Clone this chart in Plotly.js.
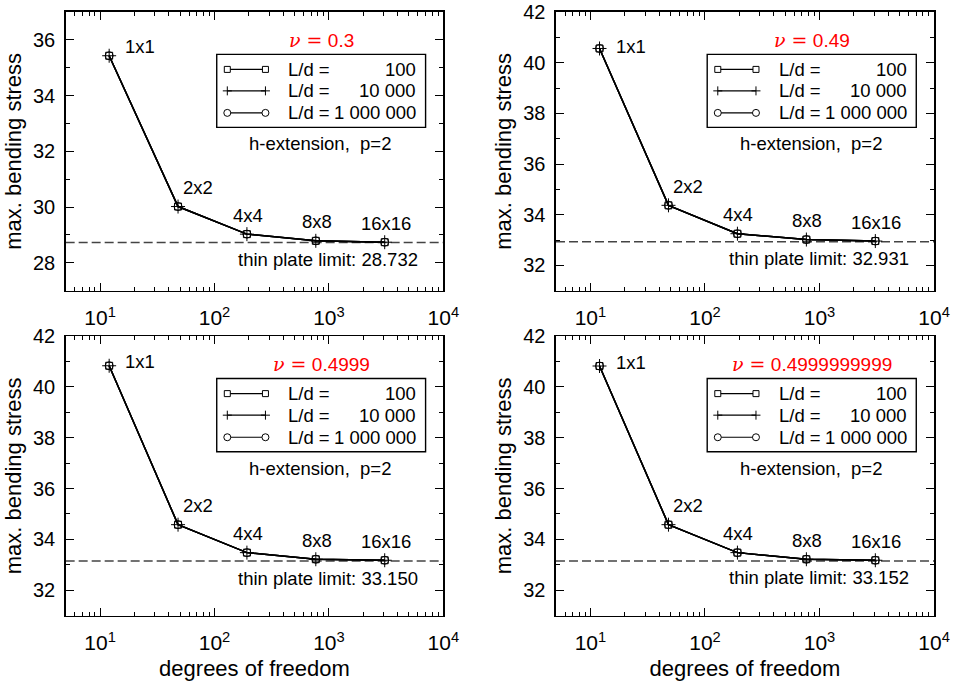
<!DOCTYPE html>
<html>
<head>
<meta charset="utf-8">
<script src="https://cdn.plot.ly/plotly-3.0.1.min.js"></script>
<style>
  html, body { margin: 0; padding: 0; background: #fff; }
  #plot { width: 953px; height: 681px; }
</style>
</head>
<body>
<div id="plot"></div>
<script>
// ---------------- data ----------------
const dof = [12, 48, 192, 768, 3072];
const meshLabels = ['1x1', '2x2', '4x4', '8x8', '16x16'];
const nuValues = ['0.3', '0.49', '0.4999', '0.4999999999'];
const thinPlateLimit = [28.732, 32.931, 33.150, 33.152];
const ldNames = ['100', '10 000', '1 000 000'];

// max. bending stress (the three L/d series coincide at this scale)
const stressNu03 = [35.43, 30.02, 29.03, 28.79, 28.74];
const stressNu049 = [40.56, 34.37, 33.25, 33.02, 32.96];
const stressNu04999 = [40.83, 34.58, 33.48, 33.22, 33.18];
const stressNu04999999999 = [40.82, 34.58, 33.48, 33.22, 33.18];

const yTickVals = [[28, 30, 32, 34, 36], [32, 34, 36, 38, 40, 42], [32, 34, 36, 38, 40, 42], [32, 34, 36, 38, 40, 42]];
const yRanges = [[27, 37], [31, 42], [31, 42], [31, 42]];
const xTickVals = [10, 100, 1000, 10000];
const xTickText = ['10<sup>1</sup>', '10<sup>2</sup>', '10<sup>3</sup>', '10<sup>4</sup>'];

// ---------------- layout helpers ----------------
const FONT = 'Liberation Sans, Arial, Helvetica, sans-serif';
const seriesByPanel = [stressNu03, stressNu049, stressNu04999, stressNu04999999999];
const xDomains = [[0.0689, 0.4652], [0.5834, 0.9801], [0.0689, 0.4652], [0.5834, 0.9801]];
const yDomains = [[0.5731, 0.9824], [0.5731, 0.9824], [0.0959, 0.5066], [0.0959, 0.5066]];
const firstLabelYShift = [9, 2, 4, 4];
const symbols = ['square-open', 'cross-thin-open', 'circle-open'];
const symbolSizes = [7, 10, 8];

const minorX = [];
for (let e = 0; e < 4; e++) for (let m = 2; m <= 9; m++) { const v = m * Math.pow(10, e); if (v > 5 && v < 10000) minorX.push(v); }

const traces = [];
const annotations = [];
const shapes = [];
const layout = {
  width: 953, height: 681,
  margin: { l: 0, r: 0, t: 0, b: 0 },
  paper_bgcolor: '#fff', plot_bgcolor: '#fff',
  showlegend: false,
  font: { family: FONT, color: '#000' },
  annotations, shapes
};

function px(i, r) { const d = xDomains[i]; return d[0] + r * (d[1] - d[0]); }
function py(i, r) { const d = yDomains[i]; return d[0] + r * (d[1] - d[0]); }

for (let i = 0; i < 4; i++) {
  const sx = i === 0 ? '' : String(i + 1);
  const xa = 'x' + sx, ya = 'y' + sx;
  const bottomRow = i >= 2;

  const xaxis = {
    domain: xDomains[i], anchor: ya, type: 'log',
    range: [Math.log10(5), 4],
    tickvals: xTickVals, ticktext: xTickText,
    ticks: 'inside', ticklen: 8, tickwidth: 1, tickcolor: '#000',
    minor: { tickvals: minorX, ticks: 'inside', ticklen: 4, tickwidth: 1, tickcolor: '#000' },
    showline: true, linewidth: 1.5, linecolor: '#000', mirror: 'allticks',
    showgrid: false, zeroline: false, automargin: false,
    tickfont: { family: FONT, size: 21, color: '#000' },
    ticklabelstandoff: 8
  };
  if (bottomRow) xaxis.title = { text: 'degrees of freedom', font: { family: FONT, size: 22, color: '#000' }, standoff: 8 };
  layout['xaxis' + sx] = xaxis;

  layout['yaxis' + sx] = {
    domain: yDomains[i], anchor: xa,
    range: yRanges[i], tickvals: yTickVals[i],
    ticks: 'inside', ticklen: 8, tickwidth: 1, tickcolor: '#000',
    minor: { dtick: 1, ticks: 'inside', ticklen: 4, tickwidth: 1, tickcolor: '#000' },
    showline: true, linewidth: 1.5, linecolor: '#000', mirror: 'allticks',
    showgrid: false, zeroline: false, automargin: false,
    tickfont: { family: FONT, size: 20, color: '#000' },
    ticklabelstandoff: 5,
    title: { text: 'max. bending stress', font: { family: FONT, size: 22, color: '#000' }, standoff: 5 }
  };

  // thin plate limit dashed line
  shapes.push({
    type: 'line', xref: 'paper', yref: ya,
    x0: xDomains[i][0], x1: xDomains[i][1], y0: thinPlateLimit[i], y1: thinPlateLimit[i],
    line: { color: '#444', width: 1.5, dash: '9px,4px' }, layer: 'below'
  });
  annotations.push({
    xref: 'paper', yref: ya, x: px(i, 0.938), y: thinPlateLimit[i],
    xanchor: 'right', yanchor: 'middle', yshift: -17, showarrow: false,
    text: 'thin plate limit: ' + thinPlateLimit[i].toFixed(3),
    font: { family: FONT, size: 18.5, color: '#000' }
  });

  // series
  for (let s = 0; s < 3; s++) {
    traces.push({
      type: 'scatter', mode: 'lines+markers', xaxis: xa, yaxis: ya,
      name: 'L/d = ' + ldNames[s],
      x: dof, y: seriesByPanel[i],
      line: { color: '#000', width: 1.5 },
      marker: { symbol: symbols[s], size: symbolSizes[s], color: '#000', line: { color: '#000', width: 1 } },
      cliponaxis: false
    });
  }

  // mesh labels
  meshLabels.forEach((lab, k) => {
    const first = k === 0, second = k === 1;
    annotations.push({
      xref: xa, yref: ya, x: Math.log10(dof[k]), y: seriesByPanel[i][k],
      xanchor: (first || second) ? 'left' : 'center', yanchor: 'middle',
      xshift: first ? 14 : (second ? 3 : 1), yshift: first ? firstLabelYShift[i] : 19,
      showarrow: false, text: lab,
      font: { family: FONT, size: 18.5, color: '#000' }
    });
  });

  // nu label
  annotations.push({
    xref: 'paper', yref: 'paper', x: px(i, 0.678), y: py(i, 0.899),
    xanchor: 'center', yanchor: 'middle', showarrow: false,
    text: '<span style="font-family:DejaVu Serif, Liberation Serif, serif"><i>ν</i> =</span> ' + nuValues[i],
    font: { family: FONT, size: 19, color: '#ff0000' }
  });

  // h-extension label
  annotations.push({
    xref: 'paper', yref: 'paper', x: px(i, 0.674), y: py(i, 0.528),
    xanchor: 'center', yanchor: 'middle', showarrow: false,
    text: 'h-extension,\u00a0\u00a0p=2',
    font: { family: FONT, size: 18.5, color: '#000' }
  });

  // legend box
  shapes.push({
    type: 'rect', xref: 'paper', yref: 'paper',
    x0: px(i, 0.400), x1: px(i, 0.953), y0: py(i, 0.586), y1: py(i, 0.848),
    line: { color: '#000', width: 1.4 }, fillcolor: 'rgba(255,255,255,0)'
  });
  const rowY = [0.794, 0.717, 0.638];
  const lx0 = px(i, 0.428), lx1 = px(i, 0.529);
  for (let s = 0; s < 3; s++) {
    const yy = py(i, rowY[s]);
    shapes.push({ type: 'line', xref: 'paper', yref: 'paper', x0: lx0, x1: lx1, y0: yy, y1: yy, line: { color: '#000', width: 1.2 } });
    [lx0, lx1].forEach(xx => {
      const base = { xref: 'paper', yref: 'paper', xsizemode: 'pixel', ysizemode: 'pixel', xanchor: xx, yanchor: yy, line: { color: '#000', width: 1 } };
      if (s === 0) {
        shapes.push(Object.assign({ type: 'rect', x0: -3, x1: 3, y0: -3, y1: 3, fillcolor: '#fff' }, base));
      } else if (s === 1) {
        shapes.push(Object.assign({ type: 'line', x0: 0, x1: 0, y0: -4.5, y1: 4.5 }, base));
        shapes.push(Object.assign({ type: 'line', x0: -4.5, x1: 4.5, y0: 0, y1: 0 }, base));
      } else {
        shapes.push(Object.assign({ type: 'circle', x0: -3.5, x1: 3.5, y0: -3.5, y1: 3.5, fillcolor: '#fff' }, base));
      }
    });
    annotations.push({
      xref: 'paper', yref: 'paper', x: px(i, 0.584), y: yy, xanchor: 'left', yanchor: 'middle',
      showarrow: false, text: 'L/d =', font: { family: FONT, size: 18.5, color: '#000' }
    });
    annotations.push({
      xref: 'paper', yref: 'paper', x: px(i, 0.934), y: yy, xanchor: 'right', yanchor: 'middle',
      showarrow: false, text: ldNames[s], font: { family: FONT, size: 18.5, color: '#000' }
    });
  }
}

Plotly.newPlot('plot', traces, layout, { staticPlot: true, displayModeBar: false });
</script>
</body>
</html>
